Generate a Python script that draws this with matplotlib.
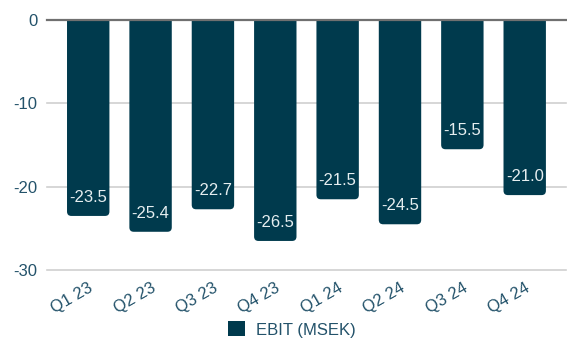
import matplotlib
matplotlib.use("Agg")
import matplotlib.pyplot as plt
from matplotlib.patches import FancyBboxPatch, Patch

quarters = ["Q1 23", "Q2 23", "Q3 23", "Q4 23", "Q1 24", "Q2 24", "Q3 24", "Q4 24"]
ebit = [-23.5, -25.4, -22.7, -26.5, -21.5, -24.5, -15.5, -21.0]
yticks = [0, -10, -20, -30]

bar_color = "#003a4d"
text_color = "#23526a"

plt.rcParams["font.family"] = ["Liberation Sans", "DejaVu Sans"]

fig = plt.figure(figsize=(5.67, 3.45), dpi=100)
ax = fig.add_axes([0.083, 0.217, 0.915, 0.725])

x = list(range(len(quarters)))
bars = ax.bar(x, ebit, width=0.68, color=bar_color)

# swap the plain rectangles for ones with rounded bottom corners;
# the top end sits above y=0 and is clipped by the axes
for rect in bars:
    rect.set_visible(False)
    x0, w = rect.get_x(), rect.get_width()
    y0 = rect.get_y() + rect.get_height()
    box = FancyBboxPatch((x0, y0), w, -y0 + 2,
                         boxstyle="round,pad=0,rounding_size=0.07",
                         mutation_aspect=7.5, facecolor=bar_color,
                         edgecolor="none", zorder=3, clip_on=True)
    ax.add_patch(box)

for xi, v in zip(x, ebit):
    ax.text(xi, v + 2.2, f"{v:.1f}", ha="center", va="center",
            color="#e6eef0", fontsize=12, zorder=4)

ax.set_ylim(-30, 0)
ax.set_xlim(-0.66, len(quarters) - 0.34)
ax.set_yticks(yticks)
ax.set_yticklabels([str(t) for t in yticks])
ax.set_xticks(x)
ax.set_xticklabels(quarters, rotation=30, ha="right", rotation_mode="anchor")

ax.tick_params(axis="both", length=0, colors=text_color, labelsize=12)
ax.tick_params(axis="x", pad=7)
ax.tick_params(axis="y", pad=7)

for t in yticks:
    ax.axhline(t, color="#d0d0d0" if t != 0 else "#707070",
               linewidth=1.2 if t != 0 else 1.6, zorder=1 if t != 0 else 5,
               clip_on=False)

for s in ax.spines.values():
    s.set_visible(False)

handle = Patch(facecolor=bar_color, edgecolor="none")
fig.legend([handle], ["EBIT (MSEK)"], loc="center", bbox_to_anchor=(0.515, 0.045),
           frameon=False, fontsize=12, labelcolor=text_color,
           handlelength=1.0, handleheight=1.0, handletextpad=0.7)

fig.savefig("out.png", dpi=100)
